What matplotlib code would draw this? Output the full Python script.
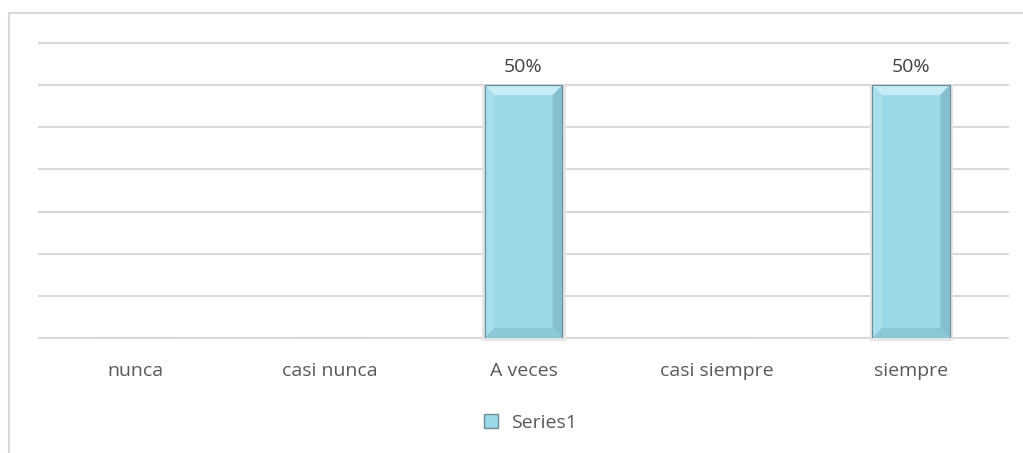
import numpy as np
import matplotlib.pyplot as plt
from matplotlib.patches import Polygon, Rectangle
from matplotlib.lines import Line2D

categories = ['nunca', 'casi nunca', 'A veces', 'casi siempre', 'siempre']
values = [0.0, 0.0, 0.5, 0.0, 0.5]
series_name = 'Series1'

plt.rcParams['font.family'] = ['Open Sans', 'DejaVu Sans']

fig = plt.figure(figsize=(10.23, 4.53), dpi=100)
W, H = 1023, 453
ax = fig.add_axes([39 / W, (H - 338) / H, (1008 - 39) / W, (338 - 43) / H])

# outer chart frame (cut off at right and bottom)
fig.patches.append(Rectangle((9 / W, -0.05), 1.1, (H - 13) / H + 0.05,
                             transform=fig.transFigure, fill=False,
                             edgecolor='#d9d9d9', linewidth=1.5))

x = np.arange(len(categories))
ymax = 0.5 * 7 / 6
ax.set_xlim(-0.5, len(categories) - 0.5)
ax.set_ylim(0, ymax)
ax.set_yticks(np.linspace(0, ymax, 8))
ax.yaxis.grid(True, color='#d9d9d9', linewidth=1.5)
for gl in ax.get_ygridlines():
    gl.set_clip_on(False)
ax.set_axisbelow(True)
ax.tick_params(left=False, bottom=False, labelleft=False)
for s in ax.spines.values():
    s.set_visible(False)

base = '#9dd8e8'
bars = ax.bar(x, values, width=0.4, color=base, edgecolor='#7a9aa3',
              linewidth=0.8, zorder=3)

# bevel: light top, dark right/bottom faces
bx = 0.05
by = ymax * 10 / 295
for b, v in zip(bars, values):
    if v <= 0:
        continue
    x0, x1 = b.get_x(), b.get_x() + b.get_width()
    y0, y1 = 0, v
    # soft shadow
    ax.add_patch(Rectangle((x0 - 0.012, y0 - ymax * 3 / 295), (x1 - x0) + 0.03, v + ymax * 3 / 295,
                           color='#e6e6e6', zorder=2, linewidth=0, clip_on=False))
    ax.add_patch(Polygon([(x0, y1), (x1, y1), (x1 - bx, y1 - by), (x0 + bx, y1 - by)],
                         closed=True, color='#c6ecf5', zorder=4, linewidth=0))
    ax.add_patch(Polygon([(x0, y0), (x0 + bx, y0 + by), (x0 + bx, y1 - by), (x0, y1)],
                         closed=True, color='#a6deeb', zorder=4, linewidth=0))
    ax.add_patch(Polygon([(x1, y0), (x1, y1), (x1 - bx, y1 - by), (x1 - bx, y0 + by)],
                         closed=True, color='#86c0cf', zorder=4, linewidth=0))
    ax.add_patch(Polygon([(x0, y0), (x1, y0), (x1 - bx, y0 + by), (x0 + bx, y0 + by)],
                         closed=True, color='#8cc8d7', zorder=4, linewidth=0))
    ax.add_patch(Rectangle((x0, y0), x1 - x0, v, fill=False, edgecolor='#6f8c95',
                           linewidth=0.8, zorder=5))
    ax.text(b.get_x() + b.get_width() / 2, v + ymax * 9 / 295, f'{v:.0%}',
            ha='center', va='bottom', fontsize=14, color='#404040', zorder=6)

ax.set_xticks(x)
ax.set_xticklabels(categories, fontsize=14, color='#595959')
ax.tick_params(axis='x', pad=14)

handle = Line2D([], [], marker='s', linestyle='none', markersize=10,
                markerfacecolor=base, markeredgecolor='#6f8c95')
fig.legend([handle], [series_name], loc='center', bbox_to_anchor=(524 / W, (H - 423) / H),
           frameon=False, fontsize=14, handletextpad=0.05, labelcolor='#595959')

fig.savefig('out.png', dpi=100, facecolor='white')
